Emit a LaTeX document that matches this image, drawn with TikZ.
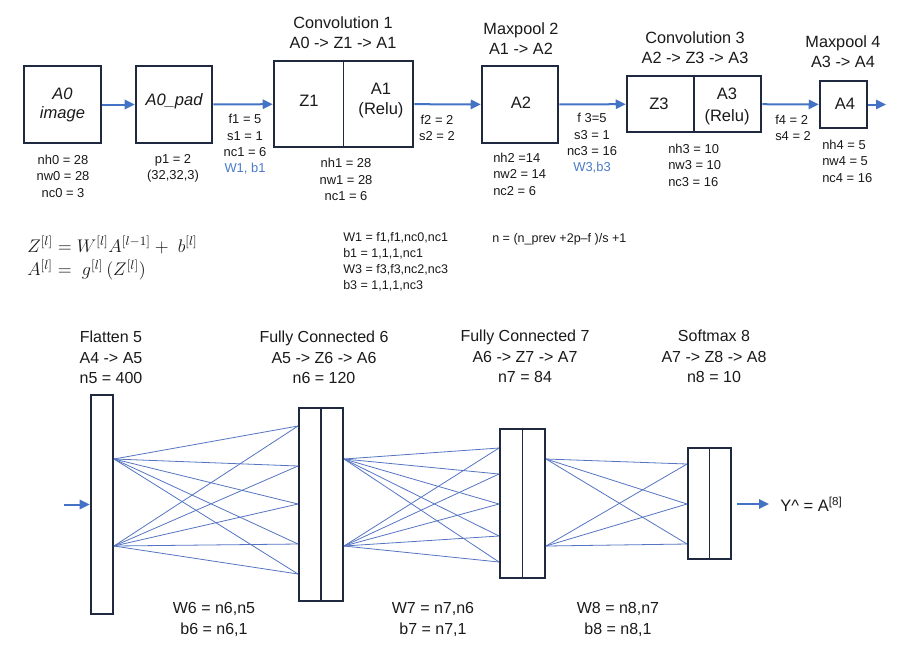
\RequirePackage{fix-cm}
\documentclass[tikz,border=0pt]{standalone}
\usepackage{fontspec}
\setmainfont{Liberation Sans}
\usetikzlibrary{arrows.meta}
\definecolor{boxc}{HTML}{1F2A40}
\definecolor{arrc}{HTML}{4472C4}
\definecolor{linec}{HTML}{5575C2}
\definecolor{bluetxt}{HTML}{4A7CC8}
\definecolor{txt}{HTML}{1A1A1A}
\tikzset{
  boxwh/.style 2 args={draw=boxc, line width=1.9pt, minimum width=#1*0.75pt, minimum height=#2*0.75pt, inner sep=0pt},
  divider/.style={draw=boxc, line width=1.4pt},
  arr/.style={draw=arrc, line width=1.5pt, -{Triangle[length=7.5pt,width=7pt]}},
  wire/.style={draw=linec, line width=0.6pt},
  lab/.style={font=\fontsize{9.7}{12.3}\selectfont, align=center, inner sep=0pt, text=txt},
  labl/.style={lab, align=left},
  ttl/.style={font=\fontsize{12.2}{15.2}\selectfont, align=center, inner sep=0pt, text=txt},
  ttlb/.style={font=\fontsize{12}{15.5}\selectfont, align=center, inner sep=0pt, text=txt},
  big/.style={font=\fontsize{12.4}{15.5}\selectfont, align=center, inner sep=0pt, text=txt},
  small/.style={font=\fontsize{9.4}{12}\selectfont, align=left, inner sep=0pt, text=txt},
  formula/.style={inner sep=0pt, anchor=west, font=\fontsize{13.7}{16}\selectfont, text=txt},
}
\begin{document}
\begin{tikzpicture}[x=0.75pt,y=-0.75pt]
\useasboundingbox[fill=white] (0,0) rectangle (898,654);

% ---------- top row boxes ----------
\node[boxwh={77}{77}] (a0) at (62.5,104.5) {};
\node[boxwh={76}{77}] (a0pad) at (174,104.5) {};
\node[boxwh={139}{86}] (conv1) at (343.5,104) {};
\draw[divider] (conv1.north) -- (conv1.south);
\node[boxwh={76}{77}] (a2) at (520,104.5) {};
\node[boxwh={134}{56}] (conv3) at (694,104) {};
\draw[divider] (conv3.north) -- (conv3.south);
\node[boxwh={47}{47}] (a4) at (843.5,104.5) {};
\coordinate (a4out) at (886,104.5);

% texts in boxes
\node[big, font=\fontsize{12.4}{14.3}\selectfont\itshape] (ta0) at (62.5,104.5) {A0\\image};
\node[big, font=\fontsize{12.4}{14.5}\selectfont\itshape] (ta0pad) at (174,101) {A0\_pad};
\node[big] (tz1) at (309,101) {Z1};
\node[big] (ta1) at (381,100.5) {A1\\(Relu)};
\node[big] (ta2) at (521,103) {A2};
\node[big] (tz3) at (659,104) {Z3};
\node[big, font=\fontsize{12.4}{16.5}\selectfont] (ta3) at (727,106) {A3\\(Relu)};
\node[big] (ta4) at (845,104) {A4};

% arrows
\draw[arr] (a0) -- (a0pad);
\draw[arr] (a0pad) -- (conv1);
\draw[arr] (conv1) -- (a2);
\draw[arr] (a2) -- (conv3);
\draw[arr] (conv3) -- (a4);
\draw[arr] (a4) -- (a4out);

% titles
\node[ttl] (tc1) at (343,33) {Convolution 1\\A0 -> Z1 -> A1};
\node[ttl] (tm2) at (521,38.5) {Maxpool 2\\A1 -> A2};
\node[ttl] (tc3) at (695,47.5) {Convolution 3\\A2 -> Z3 -> A3};
\node[ttl] (tm4) at (843,52) {Maxpool 4\\A3 -> A4};

% labels under/between
\node[lab] (l0) at (63,176) {nh0 = 28\\nw0 = 28\\nc0 = 3};
\node[lab] (lp) at (173,168.5) {p1 = 2\\(32,32,3)};
\node[lab] (lf1) at (245,144.5) {f1 = 5\\s1 = 1\\nc1 = 6\\\textcolor{bluetxt}{W1, b1}};
\node[lab] (l1) at (346,179.5) {nh1 = 28\\nw1 = 28\\nc1 = 6};
\node[lab] (lf2) at (437,128) {f2 = 2\\s2 = 2};
\node[labl, anchor=west] (l2) at (493,174) {nh2 =14\\nw2 = 14\\nc2 = 6};
\node[lab] (lf3) at (592,143.5) {f 3=5\\s3 = 1\\nc3 = 16\\\textcolor{bluetxt}{W3,b3}};
\node[labl, anchor=west] (l3) at (668,165) {nh3 = 10\\nw3 = 10\\nc3 = 16};
\node[labl, anchor=west] (lf4) at (775,128) {f4 = 2\\s4 = 2};
\node[labl, anchor=west] (l4) at (822,161) {nh4 = 5\\nw4 = 5\\nc4 = 16};

% formulas
\node[formula] (fz) at (27,245) {$Z^{[l]} = W^{[l]}A^{[l-1]} +\; b^{[l]}$};
\node[formula] (fa) at (27,270) {$A^{[l]} =\; g^{[l]}\,(Z^{[l]})$};
\node[small] (fw) at (343,261.5) [anchor=west] {W1 = f1,f1,nc0,nc1\\b1 = 1,1,1,nc1\\W3 = f3,f3,nc2,nc3\\b3 = 1,1,1,nc3};
\node[small, anchor=west] (fn) at (492,239) {n = (n\_prev +2p\textendash f )/s +1};

% ---------- bottom row ----------
\node[boxwh={22}{219}] (flat) at (102,504.5) {};
\node[boxwh={44}{193}] (fc6) at (321,504.5) {};
\draw[divider] (fc6.north) -- (fc6.south);
\node[boxwh={45}{149}] (fc7) at (522.5,503.5) {};
\draw[divider] (fc7.north) -- (fc7.south);
\node[boxwh={43}{111}] (sm8) at (709.5,503.5) {};
\draw[divider] (sm8.north) -- (sm8.south);

\coordinate (inarr) at (64,504.5);
\draw[arr] (inarr) -- (flat);
\coordinate (outstart) at (737,504);
\coordinate (outarr) at (769,504);
\draw[arr] (outstart) -- (outarr);
\node[inner sep=0pt, anchor=west, font=\fontsize{12.4}{15}\selectfont, text=txt] (yhat) at (780,504) {Y\textasciicircum{} = A\textsuperscript{[8]}};

% connection points
\coordinate (s5a) at (114,459);  \coordinate (s5b) at (114,546);
\coordinate (t6a) at (298,426);  \coordinate (t6b) at (298,466);
\coordinate (t6c) at (298,504);  \coordinate (t6d) at (298,544);
\coordinate (t6e) at (298,574);
\coordinate (s6a) at (344,459);  \coordinate (s6b) at (344,546);
\coordinate (t7a) at (499,448);  \coordinate (t7b) at (499,474);
\coordinate (t7c) at (499,504);  \coordinate (t7d) at (499,536);
\coordinate (t7e) at (499,562);
\coordinate (s7a) at (546,459);  \coordinate (s7b) at (546,546);
\coordinate (t8a) at (687,464);  \coordinate (t8b) at (687,504);
\coordinate (t8c) at (687,544);

\foreach \s in {s5a,s5b}{\foreach \t in {t6a,t6b,t6c,t6d,t6e}{\draw[wire] (\s) -- (\t);}}
\foreach \s in {s6a,s6b}{\foreach \t in {t7a,t7b,t7c,t7d,t7e}{\draw[wire] (\s) -- (\t);}}
\foreach \s in {s7a,s7b}{\foreach \t in {t8a,t8b,t8c}{\draw[wire] (\s) -- (\t);}}

% bottom titles
\node[ttlb] (tf5) at (111,357.5) {Flatten 5\\A4 -> A5\\n5 = 400};
\node[ttlb] (tf6) at (324,357.5) {Fully Connected 6\\A5 -> Z6 -> A6\\n6 = 120};
\node[ttlb] (tf7) at (525,356.5) {Fully Connected 7\\A6 -> Z7 -> A7\\n7 = 84};
\node[ttlb] (tf8) at (714,356.5) {Softmax 8\\A7 -> Z8 -> A8\\n8 = 10};

% weight labels
\node[ttlb, font=\fontsize{12}{15.8}\selectfont] (w6) at (214,619.5) {W6 = n6,n5\\b6 = n6,1};
\node[ttlb, font=\fontsize{12}{15.8}\selectfont] (w7) at (433,619.5) {W7 = n7,n6\\b7 = n7,1};
\node[ttlb, font=\fontsize{12}{15.8}\selectfont] (w8) at (618,619.5) {W8 = n8,n7\\b8 = n8,1};
\end{tikzpicture}
\end{document}
